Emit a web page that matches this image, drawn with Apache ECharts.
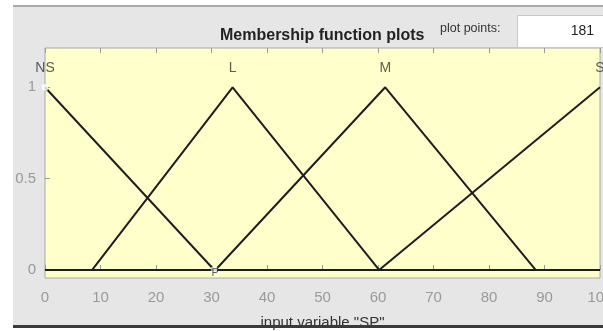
<!DOCTYPE html>
<html>
<head>
<meta charset="utf-8">
<script src="https://cdn.jsdelivr.net/npm/echarts@6/dist/echarts.min.js"></script>
<style>
  html, body { margin: 0; padding: 0; background: #ffffff; }
  #chart { width: 603px; height: 331px; }
</style>
</head>
<body>
<div id="chart"></div>
<script>
// Membership functions of the input variable "SP" (triangular shapes)
const mfNames = ['NS', 'L', 'M', 'S', 'P'];
const nsX = [0, 30.5];          const nsY = [1, 0];
const lX  = [8.5, 33.8, 60.2];  const lY  = [0, 1, 0];
const mX  = [30.7, 61.3, 88.4]; const mY  = [0, 1, 0];
const sX  = [60.2, 100];        const sY  = [0, 1];
const pX  = [0, 100];           const pY  = [0, 0];

const xTicks = [0, 10, 20, 30, 40, 50, 60, 70, 80, 90, 100];
const yTicks = [0, 0.5, 1];
const plotPoints = 181;

const lineColor = '#1e1e1e';
const tickColor = '#9a9a9a';
const fontFamily = '"Liberation Sans", Arial, sans-serif';

function pairs(xs, ys) {
  return xs.map((x, i) => [x, ys[i]]);
}

// peak point of each MF, where its name is printed
function peakOf(xs, ys) {
  let k = 0;
  ys.forEach((v, i) => { if (v > ys[k]) k = i; });
  return [xs[k], ys[k]];
}

function mfSeries(xs, ys, name) {
  return {
    type: 'line', name: name || '',
    data: pairs(xs, ys),
    showSymbol: false, symbol: 'none',
    lineStyle: { color: lineColor, width: 2 },
    silent: true, z: 3
  };
}

const labelPoints = [
  { name: mfNames[0], value: peakOf(nsX, nsY) },
  { name: mfNames[1], value: peakOf(lX, lY) },
  { name: mfNames[2], value: peakOf(mX, mY) },
  { name: mfNames[3], value: peakOf(sX, sY) }
];

const chart = echarts.init(document.getElementById('chart'), null, { renderer: 'canvas' });

const option = {
  animation: false,
  backgroundColor: 'transparent',
  grid: {
    left: 45, top: 48, width: 555, height: 230,
    outerBoundsMode: 'none', containLabel: false,
    show: true, backgroundColor: '#ffffcc', borderColor: '#a8a8a8', borderWidth: 1
  },
  xAxis: [{
    type: 'value', min: 0, max: 100, interval: 10,
    position: 'bottom',
    name: 'input variable "SP"', nameLocation: 'middle', nameGap: 37,
    nameTextStyle: { color: '#333', fontSize: 15, fontFamily: fontFamily },
    axisLine: { show: false },
    axisTick: { show: true, inside: true, length: 5, lineStyle: { color: tickColor } },
    axisLabel: { show: true, margin: 12, color: '#9a9a9a', fontSize: 15, fontFamily: fontFamily,
                 hideOverlap: false,
                 formatter: v => xTicks.includes(v) ? String(v) : '' },
    splitLine: { show: false }
  }, {
    type: 'value', min: 0, max: 100, interval: 10,
    position: 'top',
    axisLine: { show: false },
    axisTick: { show: true, inside: true, length: 5, lineStyle: { color: tickColor } },
    axisLabel: { show: false },
    splitLine: { show: false }
  }],
  yAxis: {
    type: 'value', min: -0.044, max: 1.215,
    axisLine: { show: false },
    axisTick: { show: true, inside: true, length: 5, lineStyle: { color: tickColor },
                customValues: yTicks },
    axisLabel: { show: true, margin: 9, color: '#9a9a9a', fontSize: 15, fontFamily: fontFamily,
                 customValues: yTicks, formatter: v => String(v) },
    splitLine: { show: false }
  },
  series: [
    mfSeries(pX, pY, null),
    mfSeries(nsX, nsY, mfNames[0]),
    mfSeries(lX, lY, mfNames[1]),
    mfSeries(mX, mY, mfNames[2]),
    mfSeries(sX, sY, mfNames[3]),
    {
      // MF names above their peaks
      type: 'scatter',
      data: labelPoints,
      symbolSize: 0,
      label: { show: true, formatter: p => p.name, position: 'top', distance: 12,
               color: '#333', fontSize: 14, fontFamily: fontFamily },
      silent: true, z: 5
    },
    {
      // small square vertex markers and the label of the flat MF
      type: 'scatter',
      data: [
        { value: [nsX[0], nsY[0]] },
        { value: [nsX[1], pY[0]],
          label: { show: true, formatter: mfNames[4], position: 'inside', offset: [1, 3],
                   color: '#333', fontSize: 11, fontFamily: fontFamily } }
      ],
      symbol: 'emptyRect', symbolSize: 6,
      itemStyle: { color: 'transparent', borderColor: lineColor, borderWidth: 1 },
      silent: true, z: 4
    }
  ],
  graphic: [
    // window chrome
    { type: 'rect', left: 13, top: 6, shape: { width: 590, height: 320 },
      style: { fill: '#e6e6e6' }, z: -10, silent: true },
    { type: 'rect', left: 13, top: 5, shape: { width: 590, height: 2 },
      style: { fill: '#a9a9a9' }, z: -9, silent: true },
    { type: 'text', left: 220, top: 28,
      style: { text: 'Membership function plots', font: 'bold 16px ' + fontFamily, fill: '#222' } },
    { type: 'text', left: 440, top: 22,
      style: { text: 'plot points:', font: '12.5px ' + fontFamily, fill: '#333' } },
    { type: 'rect', left: 517, top: 15, shape: { width: 86, height: 32 },
      style: { fill: '#ffffff', stroke: '#c8c8c8', lineWidth: 1 }, silent: true },
    { type: 'text', right: 9, top: 24,
      style: { text: String(plotPoints), font: '14px ' + fontFamily, fill: '#222', align: 'right' } },
    { type: 'rect', left: 13, top: 325, shape: { width: 590, height: 3 },
      style: { fill: '#3a3a3a' }, z: 100, silent: true }
  ]
};

chart.setOption(option);
</script>
</body>
</html>
